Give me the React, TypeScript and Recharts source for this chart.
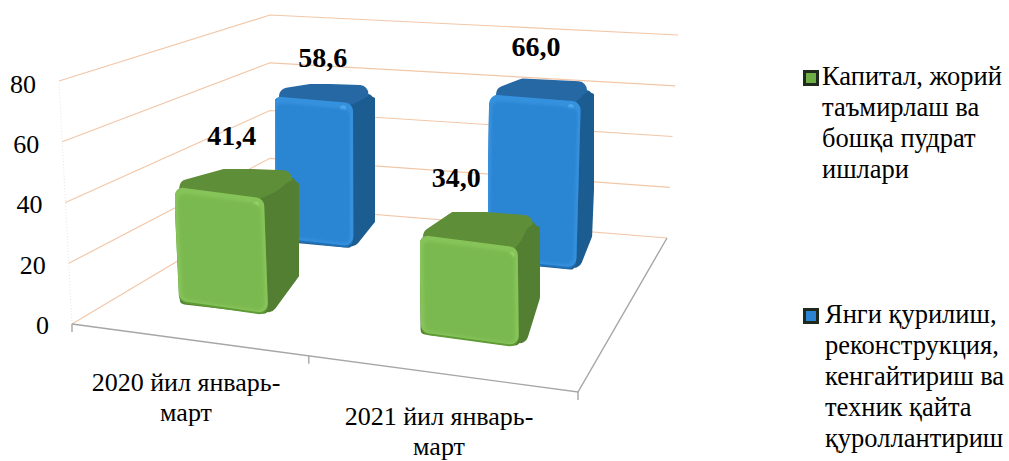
import React from 'react';
import { BarChart, Bar, XAxis, YAxis, CartesianGrid, Legend, LabelList } from 'recharts';

const categories = ['2020 йил январь-март', '2021 йил январь-март'];
const greenValues = [41.4, 34.0];
const blueValues = [58.6, 66.0];
const yTicks = [0, 20, 40, 60, 80];
const greenLegend = ['Капитал, жорий', 'таъмирлаш ва', 'бошқа пудрат', 'ишлари'];
const blueLegend = ['Янги қурилиш,', 'реконструкция,', 'кенгайтириш ва', 'техник қайта', 'қуроллантириш'];

const chartData = categories.map((name, i) => ({ name, green: greenValues[i], blue: blueValues[i] }));

const FONT = '"Liberation Serif", "Times New Roman", serif';
const PLOT = { left: 72, top: 84, width: 506, height: 241 };

// frame corners of the 3d box: front/back, left/right, floor and 80-level
type Pt = [number, number];
const FLOOR: Pt[] = [[72, 324], [578, 392], [270, 206], [667, 238]];
const CEIL: Pt[] = [[59, 81], [578, 142], [270, 15], [678, 35]];

const lerp = (a: number, b: number, t: number) => a + (b - a) * t;
const onQuad = (q: Pt[], u: number, d: number, k: 0 | 1) =>
    lerp(lerp(q[0][k], q[1][k], u), lerp(q[2][k], q[3][k], u), d);
const project = (u: number, d: number, h: number): Pt => [
    lerp(onQuad(FLOOR, u, d, 0), onQuad(CEIL, u, d, 0), h),
    lerp(onQuad(FLOOR, u, d, 1), onQuad(CEIL, u, d, 1), h),
];

const toPoints = (pts: Pt[]) => pts.map(p => `${p[0].toFixed(1)},${p[1].toFixed(1)}`).join(' ');
const inset = (pts: Pt[], r: number): Pt[] => {
    const cx = pts.reduce((s, p) => s + p[0], 0) / pts.length;
    const cy = pts.reduce((s, p) => s + p[1], 0) / pts.length;
    return pts.map(p => {
        const len = Math.hypot(p[0] - cx, p[1] - cy) || 1;
        return [p[0] + ((cx - p[0]) / len) * r, p[1] + ((cy - p[1]) / len) * r] as Pt;
    });
};

// bars sit a little left of the band centres in the original
const bandEdges = (x: number, width: number, index: number): [number, number] => {
    const u0 = (x - PLOT.left) / PLOT.width - 0.025;
    return [u0, u0 + (width / PLOT.width) * (index === 0 ? 0.92 : 1.04)];
};

interface Palette { front: string; light: string; edge: string; side: string; top: string; glint: string; }
const GREEN: Palette = { front: '#7ab94f', light: '#86c45a', edge: '#5f9a36', side: '#527f31', top: '#5f8e38', glint: '#a0d873' };
const BLUE: Palette = { front: '#2b85d3', light: '#3591de', edge: '#2472b8', side: '#1e5d91', top: '#2567a3', glint: '#56aef0' };

const softFace = (pts: Pt[], fill: string, r: number) => (
    <polygon points={toPoints(inset(pts, r))} fill={fill} stroke={fill} strokeWidth={r * 2 * 0.72} strokeLinejoin="round" />
);

const HEIGHT_TRIM = 0.965;
const TOP_DROP = 6;
const ROUND = 12;

const makeCuboid = (d0: number, d1: number, leftTrim: number, c: Palette, id: string) => (props: any) => {
    const { x, width, height, index } = props;
    const [u, u1] = bandEdges(x, width, index);
    const u0 = u + leftTrim;
    const h = (height / PLOT.height) * HEIGHT_TRIM;
    const span = d1 - d0;
    const bl = u0 - span * 0.05;
    const br = u1 - span * 0.09;
    const drop = (p: Pt): Pt => [p[0], p[1] + TOP_DROP];
    const front: Pt[] = [project(u0, d0, h), project(u1, d0, h), project(u1, d0, 0), project(u0, d0, 0)];
    const top: Pt[] = [drop(project(bl, d1, h)), drop(project(br, d1, h)), project(u1, d0, h), project(u0, d0, h)];
    const side: Pt[] = [project(u1, d0, h), drop(project(br, d1, h)), project(br, d1, 0), project(u1, d0, 0)];
    const hull: Pt[] = [front[0], top[0], top[1], side[2], front[2], front[3]];
    const raised = front.map(p => [p[0], p[1] - 2] as Pt);
    return (
        <g filter={`url(#${id}-fine)`}>
            <defs>
                <filter id={id} x="-10%" y="-10%" width="120%" height="120%">
                    <feGaussianBlur stdDeviation={1.8} />
                </filter>
                <filter id={`${id}-fine`} x="-5%" y="-5%" width="110%" height="110%">
                    <feGaussianBlur stdDeviation={0.5} />
                </filter>
            </defs>
            {softFace(hull, c.side, 7)}
            {softFace(top, c.top, ROUND)}
            {softFace(side, c.side, ROUND)}
            {softFace(front, c.edge, ROUND)}
            {softFace(raised, c.light, ROUND)}
            <circle cx={front[1][0] - 7} cy={front[1][1] + 6} r={3} fill={c.glint} />
            <g filter={`url(#${id})`}>
                {softFace(inset(front, 5), c.front, ROUND - 2)}
            </g>
        </g>
    );
};

const comma = (v: number) => v.toFixed(1).replace('.', ',');

const makeValueLabel = (d0: number, d1: number, nudges: Pt[]) => (props: any) => {
    const { x, width, height, value, index } = props;
    const [u0, u1] = bandEdges(x, width, index);
    const [cx, cy] = project((u0 + u1) / 2, (d0 + d1) / 2, height / PLOT.height);
    return (
        <text x={cx + nudges[index][0]} y={cy + nudges[index][1]} dy="0.34em" textAnchor="middle"
            fontFamily={FONT} fontWeight="bold" fontSize={28} fill="#000">
            {comma(Number(value))}
        </text>
    );
};

const WallLine = (props: any) => {
    const { y1, index } = props;
    const h = (PLOT.top + PLOT.height - y1) / PLOT.height;
    const line = [project(0, 0, h), project(0, 1, h), project(1, 1, h)];
    const isFloor = h < 0.001;
    const edge = [project(0, 0, 0), project(1, 0, 0), project(1, 1, 0)];
    return (
        <g key={`wall-${index}`}>
            <polyline points={toPoints(line)} fill="none" stroke="#f2c7a8" strokeWidth={1.2} />
            {isFloor && (
                <g stroke="#a6a6a6" fill="none">
                    <line x1={project(0, 0, 0)[0]} y1={project(0, 0, 0)[1]} x2={project(0, 0, 1)[0]} y2={project(0, 0, 1)[1]}
                        stroke="#e6e6e6" strokeDasharray="1 2" />
                    <polyline points={toPoints(edge)} strokeWidth={1.4} />
                    {/* middle tick is off centre in the original */}
                    {[0, 0.468, 1].map(u => {
                        const p = project(u, 0, 0);
                        return <line key={u} x1={p[0]} y1={p[1]} x2={p[0]} y2={p[1] + 8} strokeWidth={1.4} />;
                    })}
                </g>
            )}
        </g>
    );
};

const ValueTick = (props: any) => {
    const { y, payload } = props;
    const h = (PLOT.top + PLOT.height - y) / PLOT.height;
    return (
        <text x={project(0, 0, h)[0] - 23} y={y} dy="0.34em" textAnchor="end" fontFamily={FONT} fontSize={26} fill="#000">
            {payload.value}
        </text>
    );
};

const CategoryTick = (props: any) => {
    const { x, payload } = props;
    const cut = String(payload.value).indexOf('-') + 1;
    const [fx, fy] = project((x - PLOT.left) / PLOT.width, 0, 0);
    return (
        <text x={fx - 12.5} y={fy + 50} textAnchor="middle" fontFamily={FONT} fontSize={26} fill="#000">
            <tspan x={fx - 12.5}>{String(payload.value).slice(0, cut)}</tspan>
            <tspan x={fx - 12.5} dy={30}>{String(payload.value).slice(cut)}</tspan>
        </text>
    );
};

const LegendEntry = ({ lines, swatch, top, left }: { lines: string[]; swatch: string; top: number; left: number }) => (
    <div style={{ position: 'absolute', top, left, fontFamily: FONT, fontSize: 26.5, lineHeight: '31px', color: '#000', whiteSpace: 'nowrap' }}>
        <span style={{
            position: 'absolute', left: 3 - left, top: 9, width: 10, height: 10,
            background: swatch, border: '3px solid #1f2a1c',
        }} />
        {lines.map(l => <div key={l}>{l}</div>)}
    </div>
);

const LegendBlock = () => (
    <div style={{ position: 'relative', width: 209, height: 400 }}>
        <LegendEntry lines={greenLegend} swatch="#6fae45" top={0} left={22} />
        <LegendEntry lines={blueLegend} swatch="#2b85d3" top={238} left={25} />
    </div>
);

const App: React.FC = () => (
    <div style={{ position: 'absolute', left: 0, top: 0, width: 1009, height: 461, background: '#fff' }}>
        <BarChart width={1009} height={461} data={chartData} barSize={101} barGap={-101}
            margin={{ top: PLOT.top, right: 431, bottom: 0, left: 0 }}>
            <CartesianGrid vertical={false} horizontal={(p: any) => <WallLine {...p} />} />
            <XAxis dataKey="name" height={136} axisLine={false} tickLine={false} tick={<CategoryTick />} interval={0} />
            <YAxis width={72} domain={[0, 80]} ticks={yTicks} axisLine={false} tickLine={false} tick={<ValueTick />} />
            <Legend layout="vertical" align="center" verticalAlign="middle" content={<LegendBlock />}
                wrapperStyle={{ left: 800, top: 61, width: 209, height: 400 }} />
            <Bar dataKey="blue" isAnimationActive={false} shape={makeCuboid(0.74, 0.9, 0.012, BLUE, 'soft-blue')}>
                <LabelList dataKey="blue" content={makeValueLabel(0.74, 0.9, [[-2, -30], [-7, -37]])} />
            </Bar>
            <Bar dataKey="green" isAnimationActive={false} shape={makeCuboid(0.23, 0.48, 0.005, GREEN, 'soft-green')}>
                <LabelList dataKey="green" content={makeValueLabel(0.23, 0.48, [[-9, -41], [-27, -47]])} />
            </Bar>
        </BarChart>
    </div>
);

export default App;
